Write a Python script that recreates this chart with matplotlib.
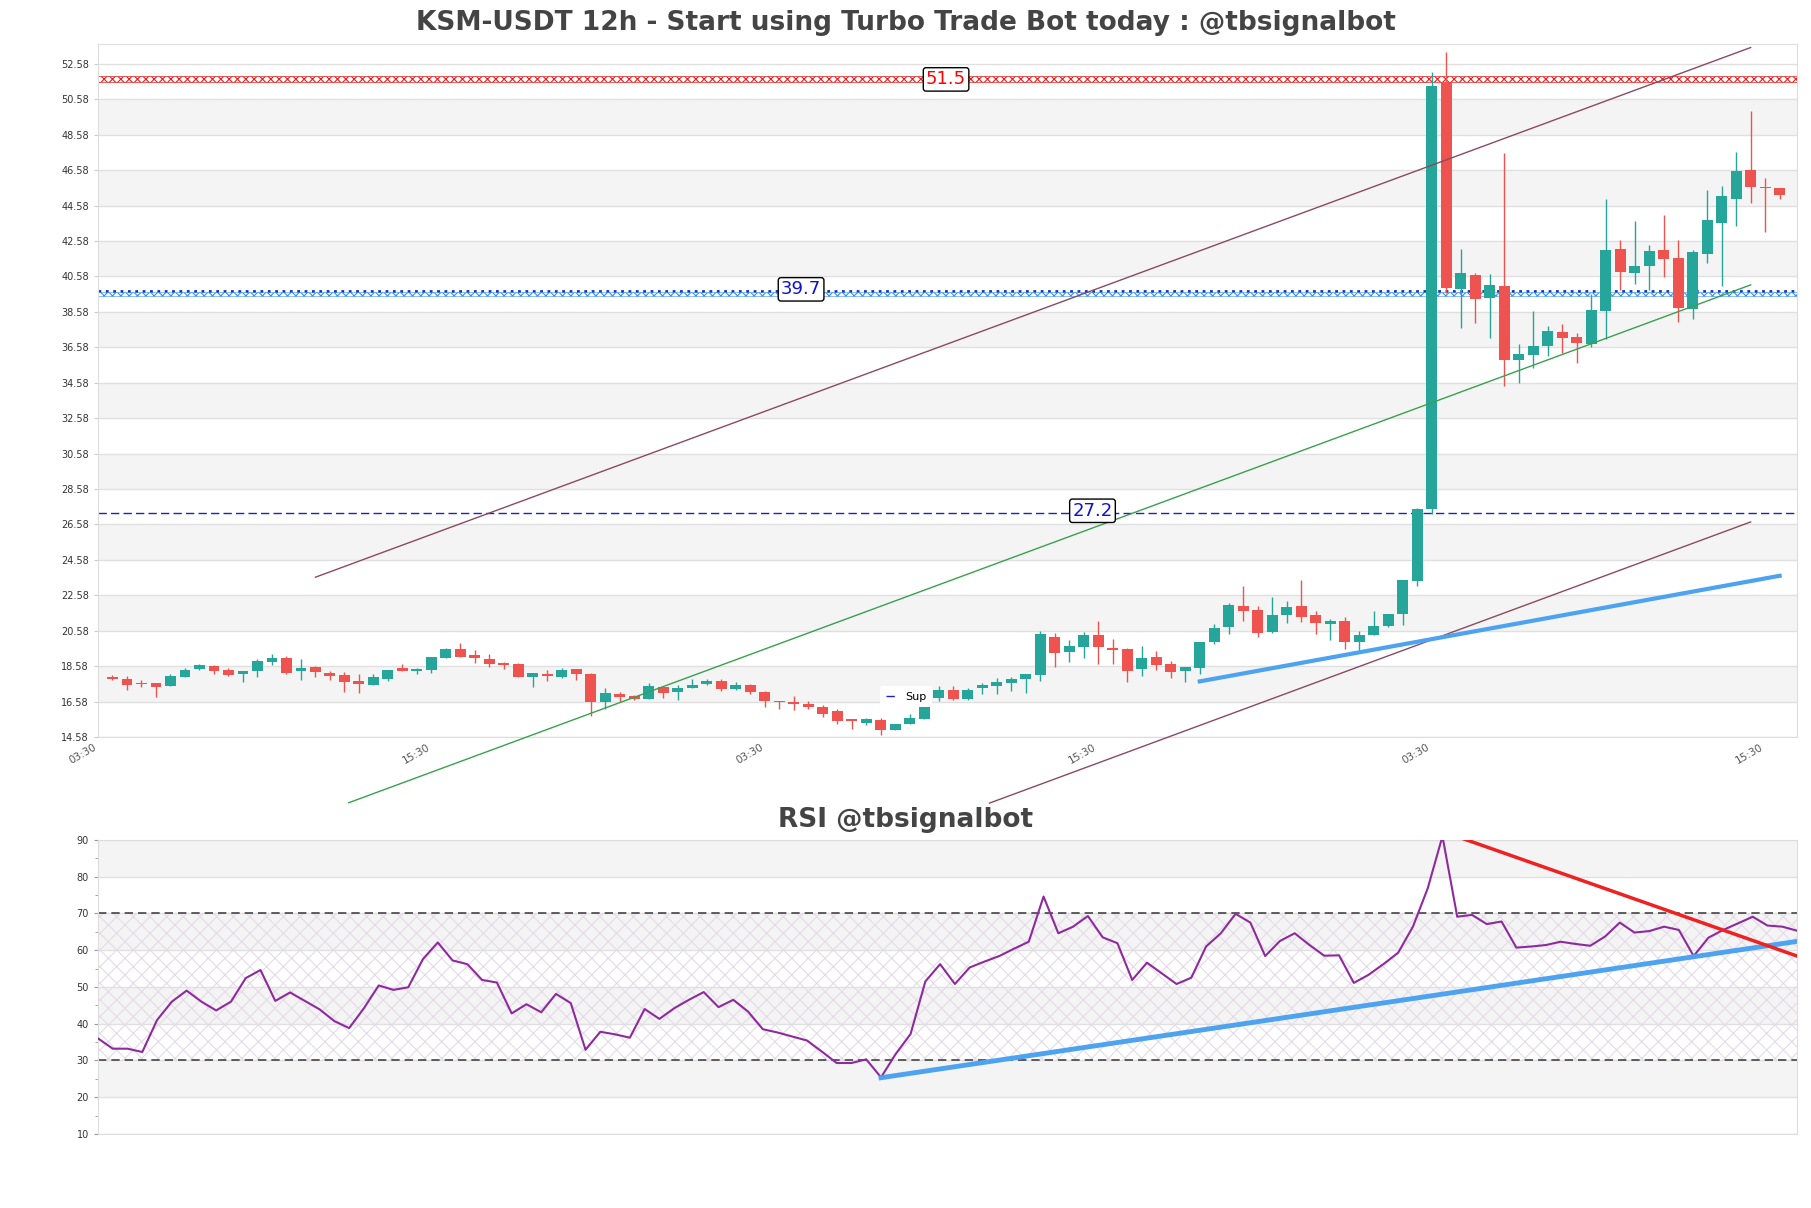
import matplotlib
matplotlib.use('Agg')
import matplotlib.pyplot as plt
import numpy as np

plt.rcParams['hatch.linewidth'] = 0.8

# 12h candles
opens = [17.96, 17.88, 17.60, 17.62, 17.47, 17.96, 18.43, 18.58, 18.35, 18.15,
         18.32, 18.81, 19.03, 18.32, 18.54, 18.20, 18.09, 17.75, 17.51, 17.85,
         18.47, 18.30, 18.39, 19.05, 19.52, 19.20, 19.01, 18.77, 18.69, 17.94,
         18.13, 17.98, 18.41, 18.13, 16.53, 17.00, 16.92, 16.73, 17.39, 17.13,
         17.36, 17.58, 17.73, 17.28, 17.49, 17.11, 16.60, 16.55, 16.43, 16.30,
         16.06, 15.62, 15.38, 15.53, 14.98, 15.30, 15.62, 16.78, 17.25, 16.73,
         17.35, 17.46, 17.63, 17.85, 18.08, 20.25, 19.36, 19.65, 20.31, 19.62,
         19.52, 18.41, 19.07, 18.68, 18.30, 18.45, 19.93, 20.78, 22.00, 21.77,
         20.50, 21.44, 22.00, 21.44, 20.95, 21.12, 19.96, 20.34, 20.82, 21.50,
         23.36, 27.47, 51.47, 39.86, 40.64, 39.36, 40.06, 35.88, 36.16, 36.66,
         37.42, 37.16, 36.74, 38.63, 42.13, 40.77, 41.19, 42.08, 41.62, 38.75,
         41.87, 43.59, 44.97, 46.61, 45.63, 45.55]
highs = [18.10, 18.02, 17.79, 17.62, 18.13, 18.49, 18.69, 18.65, 18.50, 18.30,
         18.96, 19.26, 19.14, 18.96, 18.58, 18.30, 18.24, 18.13, 18.13, 18.39,
         18.69, 18.50, 19.07, 19.63, 19.86, 19.48, 19.26, 18.80, 18.73, 18.17,
         18.35, 18.50, 18.41, 18.20, 17.32, 17.11, 16.96, 17.64, 17.45, 17.54,
         17.83, 17.88, 17.83, 17.70, 17.56, 17.15, 16.64, 16.89, 16.60, 16.36,
         16.17, 15.62, 15.64, 15.68, 15.34, 15.87, 16.30, 17.44, 17.44, 17.36,
         17.63, 17.90, 17.97, 18.13, 20.59, 20.44, 20.03, 20.50, 21.10, 20.12,
         19.58, 19.69, 19.41, 18.87, 18.51, 19.92, 20.97, 22.15, 23.12, 21.98,
         22.50, 22.28, 23.44, 21.68, 21.25, 21.34, 20.54, 21.67, 21.55, 23.44,
         27.52, 52.10, 53.23, 42.13, 40.77, 40.69, 47.54, 36.79, 38.63, 37.79,
         37.92, 37.37, 39.56, 44.95, 42.63, 43.71, 42.38, 44.02, 42.66, 42.08,
         45.48, 45.68, 47.62, 49.94, 46.11, 45.55]
lows = [17.80, 17.22, 17.38, 16.85, 17.47, 17.96, 18.39, 18.13, 18.05, 17.68,
        17.98, 18.65, 18.15, 17.79, 17.98, 17.79, 17.11, 17.07, 17.51, 17.75,
        18.30, 18.15, 18.20, 19.05, 19.07, 18.77, 18.54, 18.43, 17.94, 17.41,
        17.75, 17.92, 17.79, 15.79, 16.15, 16.55, 16.69, 16.73, 16.79, 16.66,
        17.32, 17.49, 17.19, 17.22, 17.00, 16.28, 16.17, 16.09, 16.17, 15.72,
        15.34, 15.04, 15.26, 14.70, 14.96, 15.30, 15.60, 16.63, 16.69, 16.67,
        17.03, 17.03, 17.18, 17.06, 17.74, 18.53, 18.81, 19.03, 18.68, 18.68,
        17.68, 18.00, 18.38, 17.93, 17.68, 18.15, 19.84, 20.40, 21.15, 20.22,
        20.44, 21.00, 21.06, 20.37, 20.03, 19.56, 19.40, 20.34, 20.80, 20.92,
        23.13, 27.17, 39.63, 37.69, 37.97, 37.09, 34.39, 34.57, 35.40, 36.08,
        36.28, 35.68, 36.59, 37.04, 39.81, 40.16, 39.81, 40.56, 38.00, 38.15,
        41.32, 40.01, 43.41, 44.75, 43.08, 44.97]
closes = [17.88, 17.53, 17.55, 17.41, 18.01, 18.35, 18.65, 18.32, 18.09, 18.30,
          18.86, 19.03, 18.22, 18.47, 18.24, 18.03, 17.68, 17.56, 17.96, 18.39,
          18.30, 18.41, 19.07, 19.52, 19.11, 19.05, 18.69, 18.67, 17.98, 18.17,
          18.00, 18.35, 18.11, 16.57, 17.05, 16.83, 16.73, 17.45, 17.07, 17.34,
          17.51, 17.73, 17.28, 17.49, 17.11, 16.62, 16.53, 16.42, 16.28, 15.89,
          15.49, 15.51, 15.58, 14.95, 15.34, 15.64, 16.28, 17.25, 16.73, 17.25,
          17.49, 17.66, 17.85, 18.13, 20.37, 19.32, 19.69, 20.31, 19.65, 19.47,
          18.30, 19.05, 18.62, 18.25, 18.51, 19.92, 20.76, 22.05, 21.72, 20.44,
          21.44, 21.94, 21.38, 21.00, 21.10, 19.94, 20.34, 20.84, 21.50, 23.44,
          27.47, 51.32, 39.94, 40.77, 39.31, 40.11, 35.88, 36.21, 36.64, 37.49,
          37.09, 36.84, 38.68, 42.08, 40.82, 41.19, 42.00, 41.57, 38.80, 41.95,
          43.77, 45.10, 46.54, 45.60, 45.58, 45.15]

rsi = [36.0, 33.2, 33.2, 32.3, 41.0, 46.0, 49.0, 46.0, 43.6, 46.0,
       52.4, 54.6, 46.2, 48.5, 46.2, 43.9, 40.7, 38.8, 44.2, 50.4,
       49.2, 49.9, 57.6, 62.1, 57.2, 56.2, 51.9, 51.2, 42.8, 45.3,
       43.1, 48.1, 45.6, 32.9, 37.8, 37.1, 36.2, 44.0, 41.3, 44.2,
       46.5, 48.6, 44.5, 46.5, 43.3, 38.5, 37.6, 36.5, 35.4, 32.4,
       29.3, 29.3, 30.3, 25.4, 31.8, 37.2, 51.5, 56.2, 50.8, 55.3,
       56.9, 58.4, 60.4, 62.3, 74.6, 64.6, 66.4, 69.3, 63.5, 61.9,
       51.9, 56.6, 53.7, 50.8, 52.5, 61.0, 64.6, 69.9, 67.5, 58.4,
       62.5, 64.6, 61.4, 58.5, 58.6, 51.1, 53.3, 56.2, 59.3, 66.4,
       76.8, 91.0, 69.1, 69.6, 67.1, 67.8, 60.7, 61.0, 61.4, 62.3,
       61.7, 61.2, 63.7, 67.5, 64.8, 65.2, 66.4, 65.5, 58.4, 63.4,
       65.5, 67.3, 69.1, 66.7, 66.4, 65.3]

xtick_pos = [-1, 22, 45, 68, 91, 114]
xtick_labels = ['03:30', '15:30', '03:30', '15:30', '03:30', '15:30']

res_level = 51.5
mid_level = 39.7
sup_level = 27.2

# channel lines (start idx, start price, end idx, end price)
chan_top = [14, 23.6, 113, 53.5]
chan_mid = [16.3, 10.87, 113, 40.1]
chan_bot = [60.5, 10.85, 113, 26.72]
sup_trend = [75, 17.72, 115, 23.68]
rsi_up = [53, 25.3, 115, 62.4]
rsi_down = [92, 90.9, 115, 58.4]

green = '#26a69a'
red = '#ef5350'

fig = plt.figure(figsize=(18.11, 12.08), dpi=100)
ax = fig.add_axes([0.0541, 0.3899, 0.9382, 0.5737])
ax2 = fig.add_axes([0.0541, 0.0613, 0.9382, 0.2434])

xmin, xmax = -1, 116.2
ax.set_xlim(xmin, xmax)
ax.set_ylim(14.58, 53.7)

for b in np.arange(16.58, 52.0, 4):
    ax.axhspan(b, b + 2, color='#f4f4f4', zorder=0, lw=0)
ax.set_yticks(np.arange(14.58, 52.6, 2))
ax.set_yticklabels(['%.2f' % v for v in np.arange(14.58, 52.6, 2)])
ax.grid(axis='y', color='#e0e0e0', lw=1)
ax.set_axisbelow(True)

x = np.arange(len(opens))
o = np.array(opens)
c = np.array(closes)
cols = [green if cc >= oo else red for oo, cc in zip(o, c)]
ax.vlines(x, lows, highs, color=cols, lw=1, zorder=3)
ax.bar(x, np.maximum(np.abs(c - o), 0.06), bottom=np.minimum(o, c), width=0.75,
       color=cols, zorder=4, lw=0)

# resistance / mid / support levels
ax.fill_between([xmin, xmax], 51.53, 51.87, facecolor='none', edgecolor='#e8201e',
                hatch='xxxx', lw=0.5, zorder=2)
ax.axhline(mid_level + 0.03, color='#1030c8', ls=':', lw=2, zorder=2)
ax.fill_between([xmin, xmax], 39.45, 39.68, facecolor='none', edgecolor='#3a8ee8',
                hatch='xxxx', lw=0.4, zorder=2)
ax.axhline(sup_level, color='#2020c0', ls=(0, (6, 3)), lw=1, zorder=2, label='Sup')

box = dict(boxstyle='round,pad=0.15', fc='white', ec='black', lw=1)
ax.text(57.5, 51.7, '%.1f' % res_level, color='red', fontsize=13, ha='center',
        va='center', bbox=box, zorder=6)
ax.text(47.5, 39.85, '%.1f' % mid_level, color='#1010d0', fontsize=13, ha='center',
        va='center', bbox=box, zorder=6)
ax.text(67.6, 27.35, '%.1f' % sup_level, color='#1010d0', fontsize=13, ha='center',
        va='center', bbox=box, zorder=6)

ax.plot(chan_top[::2], chan_top[1::2], color='#8c4a5e', lw=1, clip_on=False, zorder=5)
ax.plot(chan_bot[::2], chan_bot[1::2], color='#8c4a5e', lw=1, clip_on=False, zorder=5)
ax.plot(chan_mid[::2], chan_mid[1::2], color='#3aa050', lw=1, clip_on=False, zorder=5)
ax.plot(sup_trend[::2], sup_trend[1::2], color='#4da3f0', lw=3, zorder=5)

ax.set_xticks(xtick_pos)
ax.set_xticklabels(xtick_labels, rotation=30, ha='right', fontsize=7.5, color='#555555')
ax.tick_params(axis='y', labelsize=7, labelcolor='#333333', length=3, color='#cccccc')
ax.tick_params(axis='x', length=0, pad=4)
for s in ax.spines.values():
    s.set_color('#dddddd')

leg = ax.legend(loc='lower left', bbox_to_anchor=(0.457, 0.035), fontsize=8,
                frameon=True, framealpha=1, edgecolor='white', handlelength=1,
                borderpad=0.5)
leg.get_frame().set_linewidth(0)

# RSI panel
ax2.set_xlim(0, len(rsi) - 1)
ax2.set_ylim(10, 90)
for b in [20, 40, 60, 80]:
    ax2.axhspan(b, b + 10, color='#f4f4f4', zorder=0, lw=0)
ax2.fill_between([0, len(rsi) - 1], 30, 70, facecolor='none', edgecolor='#e4dbe8',
                 hatch='xx', lw=0, zorder=1)
ax2.set_yticks(range(10, 91, 10))
ax2.set_yticks(range(15, 90, 10), minor=True)
ax2.grid(axis='y', which='major', color='#e0e0e0', lw=1)
ax2.set_axisbelow(True)
ax2.axhline(70, color='#444444', ls=(0, (5, 3)), lw=1.2, zorder=2)
ax2.axhline(30, color='#444444', ls=(0, (5, 3)), lw=1.2, zorder=2)
ax2.plot(range(len(rsi)), rsi, color='#8e2a9e', lw=1.5, zorder=4)
ax2.plot(rsi_up[::2], rsi_up[1::2], color='#4da3f0', lw=3.5, zorder=5)
ax2.plot(rsi_down[::2], rsi_down[1::2], color='#ee2222', lw=2.5, zorder=5)
ax2.set_xticks([])
ax2.tick_params(axis='y', which='both', labelsize=7, labelcolor='#333333',
                length=3, color='#999999')
ax2.tick_params(axis='y', which='minor', length=2)
for s in ax2.spines.values():
    s.set_color('#dddddd')

fig.text(0.5, 0.981, 'KSM-USDT 12h - Start using Turbo Trade Bot today : @tbsignalbot',
         ha='center', va='center', fontsize=19, fontweight='bold', color='#444444')
fig.text(0.5, 0.321, 'RSI @tbsignalbot', ha='center', va='center', fontsize=19,
         fontweight='bold', color='#444444')

fig.savefig('out.png', dpi=100)
